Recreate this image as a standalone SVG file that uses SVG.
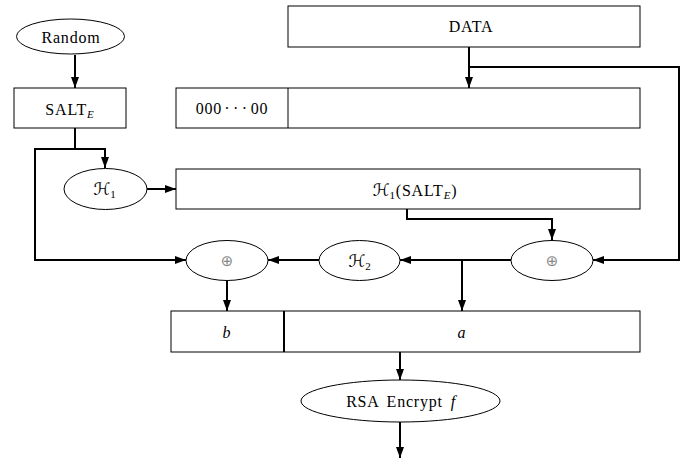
<svg xmlns="http://www.w3.org/2000/svg" width="687" height="459" viewBox="0 0 687 459">
<defs>
<style>
.sh{fill:#fff;stroke:#000;stroke-width:1}
.t{font-family:"Liberation Serif","DejaVu Serif",serif;font-size:16px;letter-spacing:0.8px;word-spacing:3px;text-anchor:middle;fill:#000}
.i{font-style:italic}
.sub{font-size:11px}
.cal{font-family:"DejaVu Serif","DejaVu Sans",serif;font-size:17px;letter-spacing:0}
.op{font-family:"DejaVu Sans",sans-serif;font-size:15px;fill:#888;text-anchor:middle}
.c{fill:none;stroke:#000;stroke-width:2}
</style>
<marker id="ah" markerUnits="userSpaceOnUse" markerWidth="11" markerHeight="8" refX="11" refY="4" orient="auto">
<path d="M0,0 L11,4 L0,8 z" fill="#000"/>
</marker>
</defs>
<rect width="687" height="459" fill="#fff"/>

<g id="connectors">
<path class="c" d="M75,55 V88" marker-end="url(#ah)"/>
<path class="c" d="M75,128 V149 H105 V168" marker-end="url(#ah)"/>
<path class="c" d="M75,149 H35 V260 H186" marker-end="url(#ah)"/>
<path class="c" d="M147,189 H176" marker-end="url(#ah)"/>
<path class="c" d="M469,47 V88" marker-end="url(#ah)"/>
<path class="c" d="M469,67 H679 V260 H593" marker-end="url(#ah)"/>
<path class="c" d="M407,209 V219 H552 V240" marker-end="url(#ah)"/>
<path class="c" d="M511,260 H400" marker-end="url(#ah)"/>
<path class="c" d="M462,260 V311" marker-end="url(#ah)"/>
<path class="c" d="M319,260 H268" marker-end="url(#ah)"/>
<path class="c" d="M227,281 V311" marker-end="url(#ah)"/>
<path class="c" d="M400,352 V380" marker-end="url(#ah)"/>
<path class="c" d="M400,422 V458" marker-end="url(#ah)"/>
</g>

<g id="random">
<ellipse class="sh" cx="70.5" cy="36.5" rx="54" ry="17.5"/>
<text class="t" x="71" y="43">Random</text>
</g>

<g id="salt">
<rect class="sh" x="14" y="88" width="112" height="40"/>
<text class="t" x="70" y="115">SALT<tspan class="i sub" dy="3">E</tspan></text>
</g>

<g id="data">
<rect class="sh" x="288" y="6" width="352" height="41"/>
<text class="t" x="471" y="32">DATA</text>
</g>

<g id="padded">
<rect class="sh" x="176" y="88" width="464" height="40"/>
<line x1="288" y1="88" x2="288" y2="128" stroke="#000" stroke-width="1"/>
<text class="t" x="232" y="114">000<tspan letter-spacing="3.5" dx="2">···</tspan>00</text>
</g>

<g id="h1">
<ellipse class="sh" cx="105.5" cy="189" rx="41.5" ry="20.5"/>
<text class="t" x="105" y="195"><tspan class="cal">ℋ</tspan><tspan class="sub" dy="3">1</tspan></text>
</g>

<g id="h1salt">
<rect class="sh" x="176" y="169" width="464" height="40"/>
<text class="t" x="415" y="196"><tspan class="cal">ℋ</tspan><tspan class="sub" dy="3">1</tspan><tspan dy="-3">(SALT</tspan><tspan class="i sub" dy="3">E</tspan><tspan dy="-3">)</tspan></text>
</g>

<g id="xor-left">
<ellipse class="sh" cx="227" cy="260.5" rx="41" ry="20"/>
<text class="op" x="227" y="266">⊕</text>
</g>

<g id="h2">
<ellipse class="sh" cx="359.5" cy="260.5" rx="40.5" ry="20"/>
<text class="t" x="360" y="267"><tspan class="cal">ℋ</tspan><tspan class="sub" dy="3">2</tspan></text>
</g>

<g id="xor-right">
<ellipse class="sh" cx="552" cy="260.5" rx="41" ry="20"/>
<text class="op" x="552" y="266">⊕</text>
</g>

<g id="ba">
<rect class="sh" x="171" y="311" width="469" height="41"/>
<line x1="284" y1="311" x2="284" y2="352" stroke="#000" stroke-width="2"/>
<text class="t i" x="227" y="338">b</text>
<text class="t i" x="462" y="338">a</text>
</g>

<g id="rsa">
<ellipse class="sh" cx="400.5" cy="401" rx="99.5" ry="21"/>
<text class="t" x="401" y="407">RSA Encrypt <tspan class="i">f</tspan></text>
</g>
</svg>
